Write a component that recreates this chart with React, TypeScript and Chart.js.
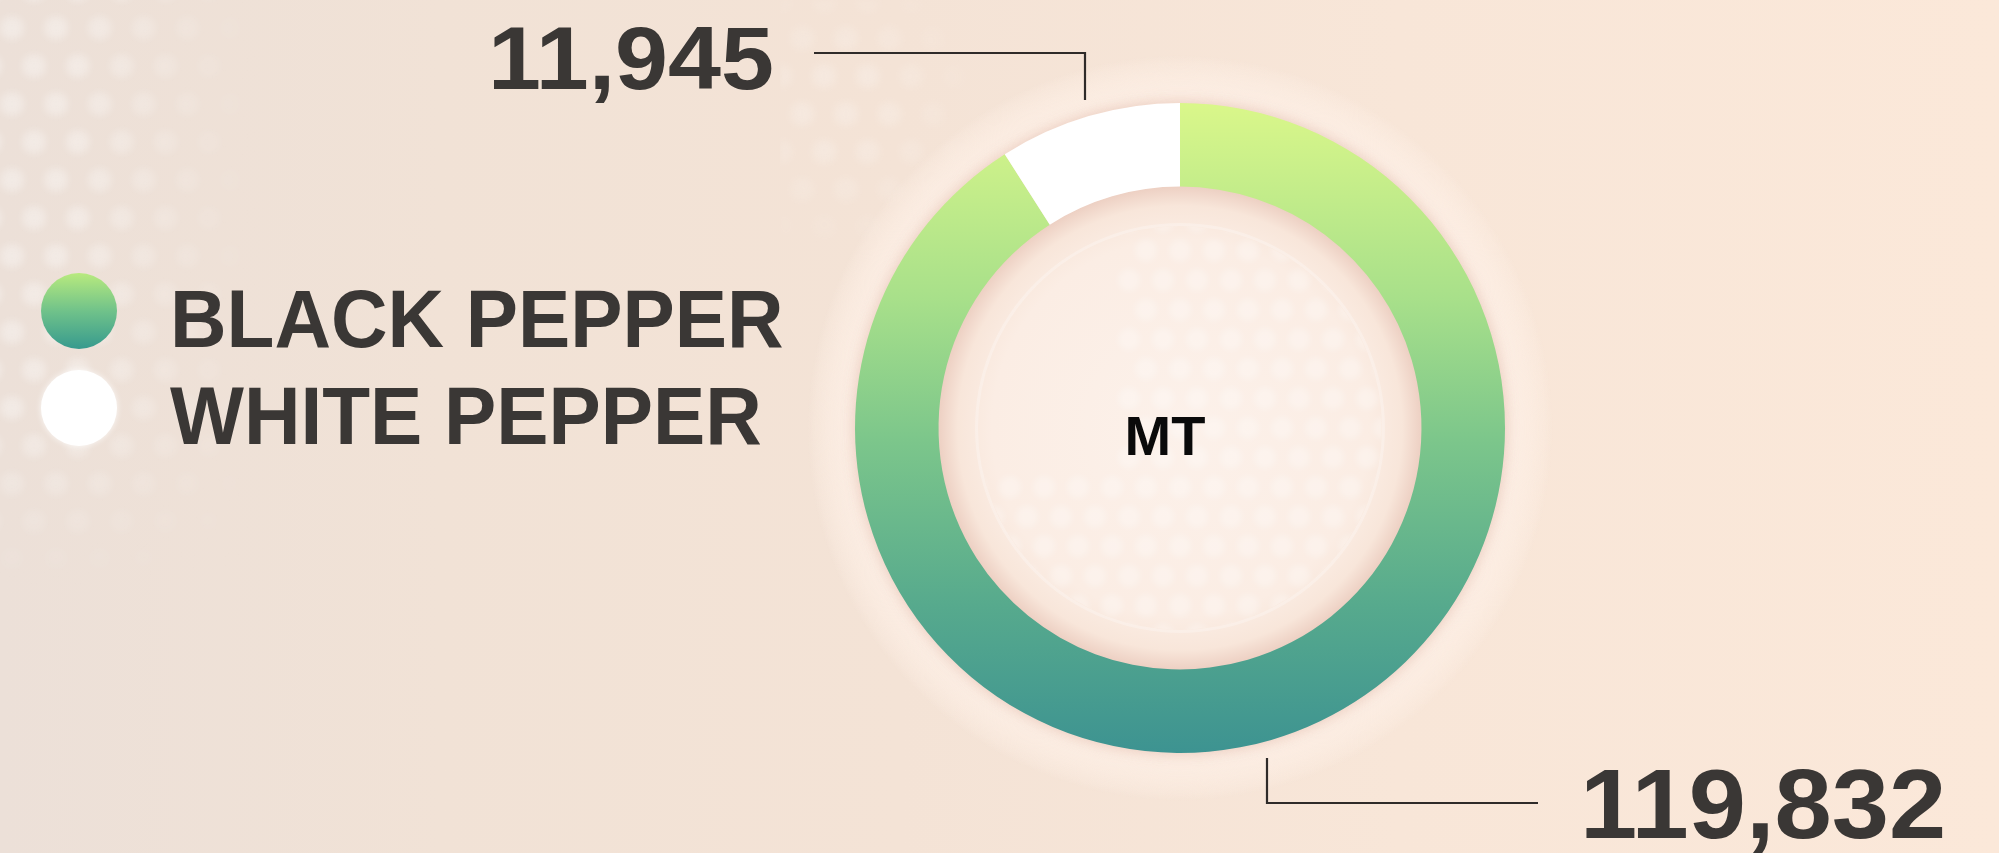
import React, { useEffect, useRef } from 'react';
import { Chart, registerables } from 'chart.js';

Chart.register(...registerables);

const categories = ['BLACK PEPPER', 'WHITE PEPPER'];
const values = [119832, 11945];
const valueLabels = ['119,832', '11,945'];
const centerLabel = 'MT';

const W = 1999;
const H = 853;
const TEXT = '#3a3735';
const FONT = '"Liberation Sans", Arial, Helvetica, sans-serif';

function ringFill(chart: any) {
  const { ctx, chartArea } = chart;
  if (!chartArea) return '#7cc68b';
  const g = ctx.createLinearGradient(0, chartArea.top, 0, chartArea.bottom);
  g.addColorStop(0, '#daf78a');
  g.addColorStop(0.3, '#a8e08a');
  g.addColorStop(0.52, '#7cc68b');
  g.addColorStop(0.77, '#57aa8d');
  g.addColorStop(1, '#3d9391');
  return g;
}

function scaledText(ctx: any, text: string, x: number, y: number, sx: number, align: 'left' | 'right') {
  ctx.save();
  ctx.translate(x, y);
  ctx.scale(sx, 1);
  ctx.textAlign = align;
  ctx.textBaseline = 'alphabetic';
  ctx.fillText(text, 0, 0);
  ctx.restore();
}

const decorPlugin = {
  id: 'decor',
  beforeDatasetsDraw(chart: any) {
    const meta = chart.getDatasetMeta(0);
    const arc = meta.data[0];
    if (!arc) return;
    const { x, y, outerRadius, innerRadius } = arc.getProps(['x', 'y', 'outerRadius', 'innerRadius'], true);
    const ctx = chart.ctx;
    ctx.save();
    // outer halo disc (soft)
    const glow = ctx.createRadialGradient(x, y, outerRadius - 5, x, y, outerRadius + 48);
    glow.addColorStop(0, 'rgba(253,240,231,0.9)');
    glow.addColorStop(0.6, 'rgba(253,239,229,0.6)');
    glow.addColorStop(0.85, 'rgba(253,239,229,0.3)');
    glow.addColorStop(1, 'rgba(253,238,228,0)');
    ctx.fillStyle = glow;
    ctx.beginPath();
    ctx.arc(x, y, outerRadius + 48, 0, Math.PI * 2);
    ctx.fill();
    // soft shadow right at edge of ring
    ctx.shadowColor = 'rgba(200,135,115,0.45)';
    ctx.shadowBlur = 16;
    ctx.fillStyle = '#f3dccd';
    ctx.beginPath();
    ctx.arc(x, y, outerRadius - 1, 0, Math.PI * 2);
    ctx.fill();
    ctx.shadowBlur = 0;
    ctx.shadowColor = 'transparent';
    // inner disk
    const inner = ctx.createRadialGradient(x, y, 0, x, y, innerRadius);
    inner.addColorStop(0, '#fcf1ea');
    inner.addColorStop(0.78, '#fbede4');
    inner.addColorStop(0.92, '#f8e6da');
    inner.addColorStop(1, '#edd0c3');
    ctx.fillStyle = inner;
    ctx.beginPath();
    ctx.arc(x, y, innerRadius + 1, 0, Math.PI * 2);
    ctx.fill();
    // faint inner circle
    ctx.strokeStyle = 'rgba(255,255,255,0.25)';
    ctx.lineWidth = 3;
    ctx.beginPath();
    ctx.arc(x, y, innerRadius - 38, 0, Math.PI * 2);
    ctx.stroke();
    // faint dot texture inside
    ctx.save();
    ctx.beginPath();
    ctx.arc(x, y, innerRadius - 40, 0, Math.PI * 2);
    ctx.clip();
    ctx.filter = 'blur(3px)';
    ctx.fillStyle = 'rgba(255,255,255,0.28)';
    const step = 34;
    for (let row = -8; row <= 8; row++) {
      for (let col = -8; col <= 8; col++) {
        const dx = col * step + (row % 2 ? step / 2 : 0);
        const dy = row * step * 0.87;
        if (dx < -60 && dy < 40) continue;
        ctx.beginPath();
        ctx.arc(x + dx, y + dy, 11, 0, Math.PI * 2);
        ctx.fill();
      }
    }
    ctx.restore();
    ctx.restore();
  },
  afterDatasetsDraw(chart: any) {
    const meta = chart.getDatasetMeta(0);
    const ctx = chart.ctx;
    const cArc = meta.data[0];
    if (!cArc) return;
    const cx = cArc.x;
    const cy = cArc.y;
    ctx.save();
    // center label
    ctx.fillStyle = '#0a0a0a';
    ctx.font = `bold 56px ${FONT}`;
    ctx.textAlign = 'center';
    ctx.textBaseline = 'alphabetic';
    ctx.fillText(centerLabel, cx - 15, cy + 27);

    // callouts
    meta.data.forEach((arc: any, i: number) => {
      const { x, y, startAngle, endAngle, outerRadius } = arc.getProps(
        ['x', 'y', 'startAngle', 'endAngle', 'outerRadius'],
        true
      );
      const mid = (startAngle + endAngle) / 2;
      const px = Math.round(x + Math.cos(mid) * outerRadius) - 4;
      const py = y + Math.sin(mid) * outerRadius;
      const up = py < y;
      const lineY = Math.round(up ? y - outerRadius - 50 : y + outerRadius + 50);
      const startY = up ? py - 16 : py + 18;
      const len = 271;
      const ex = up ? px - len : px + len;
      ctx.strokeStyle = '#2f2b29';
      ctx.lineWidth = 2.2;
      ctx.beginPath();
      ctx.moveTo(px, startY);
      ctx.lineTo(px, lineY);
      ctx.lineTo(ex, lineY);
      ctx.stroke();
      ctx.fillStyle = TEXT;
      const size = up ? 89 : 98;
      ctx.font = `bold ${size}px ${FONT}`;
      scaledText(ctx, valueLabels[i], up ? ex - 40 : ex + 42, lineY + (up ? 36 : 35), up ? 1.07 : 1.05, up ? 'right' : 'left');
    });

    // legend
    const legendOrder = [0, 1];
    legendOrder.forEach((i, k) => {
      const ccx = 79;
      const ccy = 311 + k * 97;
      const r = 38;
      if (i === 0) {
        const g = ctx.createLinearGradient(0, ccy - r, 0, ccy + r);
        g.addColorStop(0, '#b8ea7e');
        g.addColorStop(0.5, '#70c28a');
        g.addColorStop(1, '#379a8e');
        ctx.fillStyle = g;
      } else {
        ctx.fillStyle = '#ffffff';
        ctx.shadowColor = 'rgba(255,255,255,0.8)';
        ctx.shadowBlur = 6;
      }
      ctx.beginPath();
      ctx.arc(ccx, ccy, r, 0, Math.PI * 2);
      ctx.fill();
      ctx.shadowBlur = 0;
      ctx.shadowColor = 'transparent';
      ctx.fillStyle = TEXT;
      ctx.font = `bold 82px ${FONT}`;
      scaledText(ctx, categories[i], 170, 347 + k * 97, 0.955, 'left');
    });
    ctx.restore();
  },
};

export default function App() {
  const ref = useRef<HTMLCanvasElement>(null);
  useEffect(() => {
    document.body.style.margin = '0';
    const canvas = ref.current;
    if (!canvas) return;
    const chart = new Chart(canvas, {
      type: 'doughnut',
      data: {
        labels: categories,
        datasets: [
          {
            data: values,
            backgroundColor: (c: any) => (c.dataIndex === 0 ? ringFill(c.chart) : '#ffffff'),
            borderWidth: 0,
            hoverOffset: 0,
          },
        ],
      },
      options: {
        responsive: false,
        animation: false,
        cutout: '74.3%',
        rotation: 0,
        layout: { padding: { top: 103, bottom: 100, left: 855, right: 494 } },
        plugins: {
          legend: { display: false },
          tooltip: { enabled: false },
          title: { display: false },
        },
      },
      plugins: [decorPlugin],
    });
    return () => chart.destroy();
  }, []);

  const dots = 'radial-gradient(circle, rgba(255,255,255,0.38) 0px, rgba(255,255,255,0.3) 9px, rgba(255,255,255,0) 15px)';

  return (
    <div
      style={{
        position: 'absolute',
        left: 0,
        top: 0,
        width: W,
        height: H,
        overflow: 'hidden',
        background:
          'linear-gradient(90deg, #ece0d8 0%, #f1e2d6 22%, #f4e3d6 45%, #f8e6d8 70%, #fbe8d9 100%)',
      }}
    >
      <div
        style={{
          position: 'absolute',
          left: -10,
          top: -10,
          width: 270,
          height: 600,
          backgroundImage: `${dots}, ${dots}`,
          backgroundSize: '44px 76px, 44px 76px',
          backgroundPosition: '0px 0px, 22px 38px',
          filter: 'blur(3px)',
          WebkitMaskImage: 'linear-gradient(90deg, rgba(0,0,0,1) 30%, rgba(0,0,0,0) 100%), linear-gradient(180deg, rgba(0,0,0,1) 70%, rgba(0,0,0,0) 100%)',
          WebkitMaskComposite: 'source-in',
          maskImage: 'linear-gradient(90deg, rgba(0,0,0,1) 30%, rgba(0,0,0,0) 100%), linear-gradient(180deg, rgba(0,0,0,1) 70%, rgba(0,0,0,0) 100%)',
          maskComposite: 'intersect',
        }}
      />
      <div
        style={{
          position: 'absolute',
          left: 780,
          top: 0,
          width: 200,
          height: 260,
          backgroundImage: `${dots}, ${dots}`,
          backgroundSize: '44px 76px, 44px 76px',
          backgroundPosition: '0px 0px, 22px 38px',
          filter: 'blur(3px)',
          opacity: 0.6,
          WebkitMaskImage: 'radial-gradient(ellipse at 30% 40%, rgba(0,0,0,1) 20%, rgba(0,0,0,0) 70%)',
          maskImage: 'radial-gradient(ellipse at 30% 40%, rgba(0,0,0,1) 20%, rgba(0,0,0,0) 70%)',
        }}
      />
      <canvas ref={ref} width={W} height={H} style={{ position: 'absolute', left: 0, top: 0 }} />
    </div>
  );
}
